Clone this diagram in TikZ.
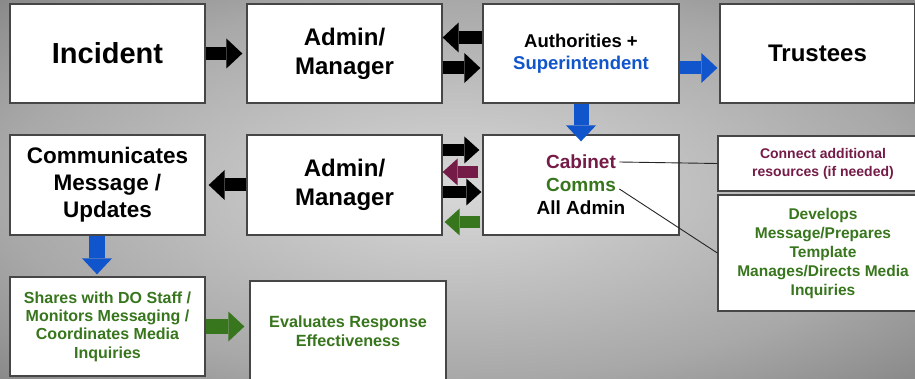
\documentclass[tikz,border=0pt]{standalone}
\usepackage{fontspec}
\setmainfont{Liberation Sans}
\usepackage{xcolor}
\usepackage{tikz}
\usetikzlibrary{arrows.meta, calc, positioning}
\definecolor{boxline}{RGB}{70,70,70}
\definecolor{flowblue}{RGB}{17,85,204}
\definecolor{cabinetred}{RGB}{116,27,71}
\definecolor{commsgreen}{RGB}{56,118,29}
\definecolor{bgcenter}{RGB}{216,216,216}
\definecolor{bgmid}{RGB}{168,168,168}
\definecolor{bgedge}{RGB}{136,136,136}
\pgfdeclareradialshading{backdrop}{\pgfpoint{0bp}{0bp}}{%
    color(0bp)=(bgcenter); color(25bp)=(bgmid); color(36bp)=(bgedge); color(50bp)=(bgedge)}
\tikzset{
    block/.style={
        rectangle,
        draw=boxline,
        line width=1.3pt,
        fill=white,
        align=center,
        inner sep=0pt,
        minimum width=195pt,
        minimum height=99pt,
        font=\bfseries\fontsize{24}{29}\selectfont
    },
    cabtext/.style={
        font=\bfseries\fontsize{19}{23}\selectfont
    },
    flow/.style={
        line width=13pt,
        -{Triangle[length=16pt, width=30pt, line width=0pt]}
    },
    slimflow/.style={
        line width=12pt,
        -{Triangle[length=15pt, width=27pt, line width=0pt]}
    },
    callout/.style={
        draw=black!85,
        line width=0.9pt
    }
}

\begin{document}
\begin{tikzpicture}[x=1pt, y=-1pt]

% Backdrop
\shade[shading=backdrop] (0,0) rectangle (915,379);
\useasboundingbox (0,0) rectangle (915,379);

% Top row
\node[block, font=\bfseries\fontsize{29}{35}\selectfont] (incident) at (107.5,53.5) {Incident};
\node[block] (admtop) at (344.5,53.5) {Admin/\\Manager};
\node[block, minimum width=196pt, font=\bfseries\fontsize{18.5}{22}\selectfont] (auth) at (581,53.5) {Authorities +\\\textcolor{flowblue}{Superintendent}};
\node[block] (trustees) at (817.5,53.5) {Trustees};

% Middle row
\node[block, minimum height=100pt, font=\bfseries\fontsize{22.5}{27}\selectfont] (comm) at (107.5,185) {Communicates\\Message /\\Updates};
\node[block, minimum height=100pt] (admlow) at (344.5,185) {Admin/\\Manager};
\node[block, minimum width=196pt, minimum height=100pt] (cabbox) at (581,185) {};
\node[cabtext, text=cabinetred] (cabinet) at (581,162) {Cabinet};
\node[cabtext, text=commsgreen] (comms) at (581,185) {Comms};
\node[cabtext] (alladmin) at (581,208) {All Admin};

% Side notes
\node[block, minimum width=210pt, minimum height=55pt, text=cabinetred, font=\bfseries\fontsize{14}{18}\selectfont] (connect) at (823,163.5) {Connect additional\\resources (if needed)};
\node[block, minimum width=210pt, minimum height=116pt, text=commsgreen, font=\bfseries\fontsize{15.5}{19}\selectfont] (develops) at (823,253) {Develops\\Message/Prepares\\Template\\Manages/Directs Media\\Inquiries};

% Bottom row
\node[block, text=commsgreen, font=\bfseries\fontsize{16}{18.3}\selectfont] (shares) at (107.5,326.5) {Shares with DO Staff /\\Monitors Messaging /\\Coordinates Media\\Inquiries};
\node[block, minimum width=196pt, minimum height=100pt, text=commsgreen, font=\bfseries\fontsize{16.2}{18.7}\selectfont] (evaluate) at (348,331) {Evaluates Response\\Effectiveness};

% Flow arrows
\draw[flow, shorten >=4pt] (incident) -- (admtop);
\draw[flow] ([yshift=16pt]auth.west) -- ([yshift=16pt]admtop.east);
\draw[flow, shorten >=2pt] ([yshift=-14.5pt]admtop.east) -- ([yshift=-14.5pt]auth.west);
\draw[flow, flowblue, shorten >=2pt] ([yshift=-14.5pt]auth.east) -- ([yshift=-14.5pt]trustees.west);
\draw[flow, flowblue, line width=15pt, shorten >=-7pt] (auth) -- (cabbox);

\draw[slimflow, shorten >=3pt] ([yshift=35pt]admlow.east) -- ([yshift=35pt]cabbox.west);
\draw[slimflow, cabinetred, shorten <=4pt] ([yshift=13pt]cabbox.west) -- ([yshift=13pt]admlow.east);
\draw[slimflow, shorten >=1pt] ([yshift=-7pt]admlow.east) -- ([yshift=-7pt]cabbox.west);
\draw[slimflow, commsgreen, shorten <=2pt, shorten >=2pt] ([yshift=-37pt]cabbox.west) -- ([yshift=-37pt]admlow.east);

\draw[flow, shorten >=3pt] (admlow) -- (comm);
\draw[flow, flowblue, line width=16pt, shorten >=2pt] ([xshift=-10.5pt]comm.south) -- ([xshift=-10.5pt]shares.north);
\draw[flow, commsgreen, line width=15pt, shorten >=5pt] (shares.east) -- (shares.east -| evaluate.west);

% Callout lines
\draw[callout] (cabinet.east) -- (connect.west);
\draw[callout] ([yshift=-4pt]comms.east) -- (develops.west);

\end{tikzpicture}
\end{document}
